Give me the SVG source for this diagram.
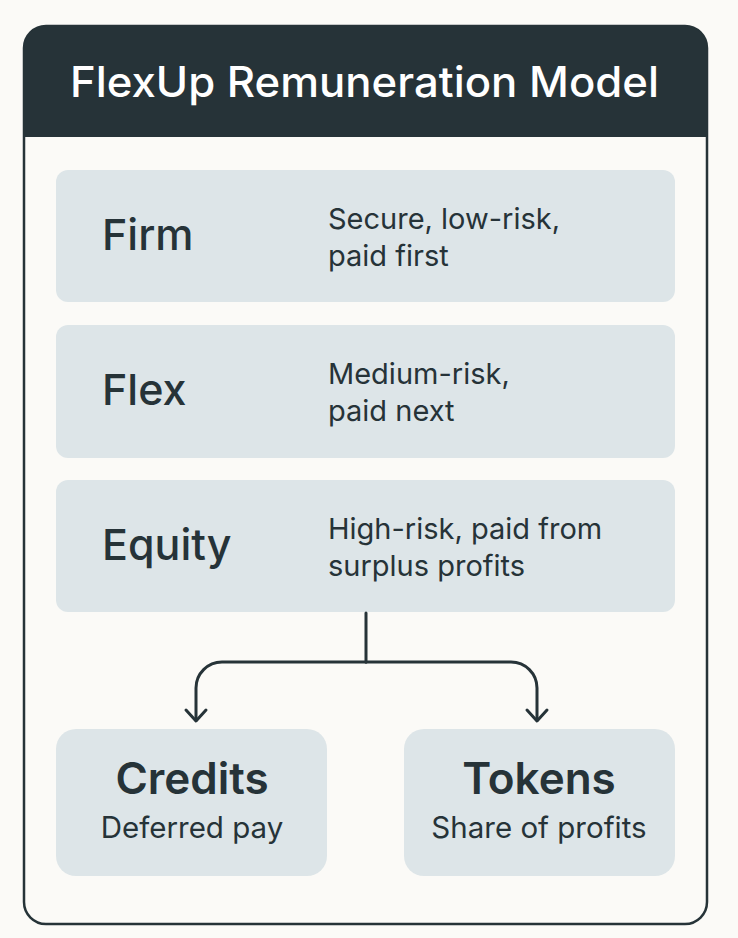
<svg xmlns="http://www.w3.org/2000/svg" width="738" height="938" viewBox="0 0 738 938">
<style>
.tier{fill:#dde5e8}
.name{font-family:Inter,"Noto Sans",sans-serif;font-size:43px;font-weight:500;fill:#263338}
.desc{font-family:Inter,"Noto Sans",sans-serif;font-size:29px;font-weight:400;fill:#263338}
.bname{font-family:Inter,"Noto Sans",sans-serif;font-size:44px;font-weight:600;fill:#263338;text-anchor:middle}
.bdesc{font-family:Inter,"Noto Sans",sans-serif;font-size:29.5px;font-weight:400;fill:#263338;text-anchor:middle}
.conn{fill:none;stroke:#263338;stroke-width:3;stroke-linecap:round;stroke-linejoin:round}
</style>
<rect x="0" y="0" width="738" height="938" fill="#fbfaf7"/>
<g id="frame">
<rect x="24" y="26" width="683" height="898" rx="22" fill="#fbfaf7" stroke="#263338" stroke-width="2.5"/>
<path d="M24 137 V48 A22 22 0 0 1 46 26 H685 A22 22 0 0 1 707 48 V137 Z" fill="#263338"/>
<text x="70" y="97" textLength="589" lengthAdjust="spacingAndGlyphs" font-family="Inter,'Noto Sans',sans-serif" font-size="42" font-weight="500" fill="#ffffff">FlexUp Remuneration Model</text>
</g>
<g id="firm">
<rect class="tier" x="56" y="170" width="619" height="132" rx="12"/>
<text class="name" x="102" y="250">Firm</text>
<text class="desc" x="328" y="229">Secure, low-risk,</text>
<text class="desc" x="328" y="266">paid first</text>
</g>
<g id="flex">
<rect class="tier" x="56" y="325" width="619" height="133" rx="12"/>
<text class="name" x="102" y="405">Flex</text>
<text class="desc" x="328" y="384">Medium-risk,</text>
<text class="desc" x="328" y="421">paid next</text>
</g>
<g id="equity">
<rect class="tier" x="56" y="480" width="619" height="132" rx="12"/>
<text class="name" x="102" y="560">Equity</text>
<text class="desc" x="328" y="539">High-risk, paid from</text>
<text class="desc" x="328" y="576">surplus profits</text>
</g>
<g id="credits">
<rect class="tier" x="56" y="729" width="271" height="147" rx="20"/>
<text class="bname" x="192" y="794">Credits</text>
<text class="bdesc" x="192" y="838">Deferred pay</text>
</g>
<g id="tokens">
<rect class="tier" x="404" y="729" width="271" height="147" rx="20"/>
<text class="bname" x="539" y="794">Tokens</text>
<text class="bdesc" x="539" y="838">Share of profits</text>
</g>
<g id="connectors">
<path class="conn" d="M366 613 V662"/>
<path class="conn" d="M366 662 H222 A26 26 0 0 0 196 688 V720"/>
<path class="conn" d="M366 662 H511 A26 26 0 0 1 537 688 V720"/>
<path class="conn" d="M186 710 L196 721 L206 710"/>
<path class="conn" d="M527 710 L537 721 L547 710"/>
</g>
</svg>
